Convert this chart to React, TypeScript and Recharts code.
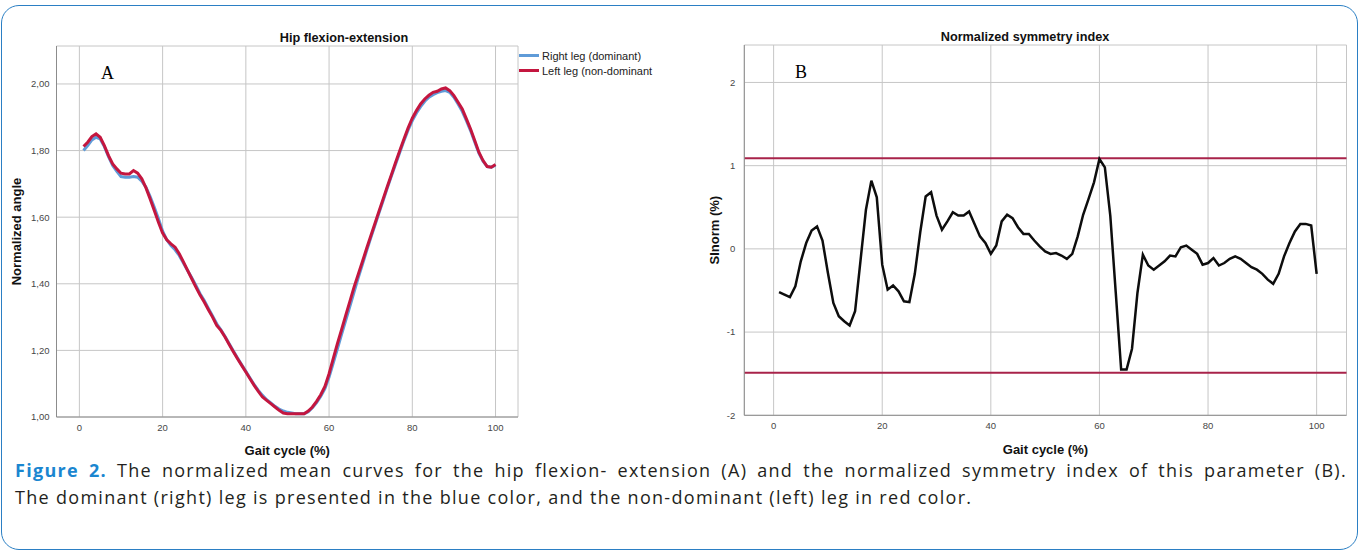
import React from 'react';
import { LineChart, Line, XAxis, YAxis, CartesianGrid, ReferenceLine, Legend } from 'recharts';

// gait cycle positions (%)
const gaitCycle = [
  1, 2, 3, 4, 5, 6, 7, 8, 9, 10, 11, 12, 13, 14, 15, 16, 17, 18, 19, 20,
  21, 22, 23, 24, 25, 26, 27, 28, 29, 30, 31, 32, 33, 34, 35, 36, 37, 38, 39, 40,
  41, 42, 43, 44, 45, 46, 47, 48, 49, 50, 51, 52, 53, 54, 55, 56, 57, 58, 59, 60,
  61, 62, 63, 64, 65, 66, 67, 68, 69, 70, 71, 72, 73, 74, 75, 76, 77, 78, 79, 80,
  81, 82, 83, 84, 85, 86, 87, 88, 89, 90, 91, 92, 93, 94, 95, 96, 97, 98, 99, 100,
];

// panel A - normalized hip angle, right (dominant) leg
const rightLeg = [
  1.800, 1.815, 1.832, 1.840, 1.835, 1.812, 1.782, 1.755, 1.738, 1.722,
  1.720, 1.720, 1.722, 1.720, 1.708, 1.690, 1.662, 1.630, 1.595, 1.558,
  1.532, 1.515, 1.502, 1.485, 1.462, 1.440, 1.418, 1.395, 1.370, 1.350,
  1.326, 1.303, 1.280, 1.262, 1.242, 1.220, 1.198, 1.177, 1.157, 1.137,
  1.117, 1.097, 1.080, 1.065, 1.052, 1.042, 1.032, 1.024, 1.018, 1.014,
  1.012, 1.010, 1.010, 1.010, 1.016, 1.028, 1.043, 1.062, 1.085, 1.120,
  1.162, 1.205, 1.248, 1.290, 1.332, 1.375, 1.418, 1.458, 1.498, 1.537,
  1.575, 1.613, 1.650, 1.688, 1.724, 1.760, 1.795, 1.830, 1.862, 1.890,
  1.913, 1.932, 1.948, 1.960, 1.968, 1.974, 1.978, 1.980, 1.975, 1.960,
  1.940, 1.918, 1.890, 1.860, 1.826, 1.792, 1.768, 1.752, 1.750, 1.756,
];

// panel A - left (non-dominant) leg
const leftLeg = [
  1.812, 1.825, 1.842, 1.850, 1.840, 1.815, 1.785, 1.760, 1.745, 1.732,
  1.730, 1.730, 1.740, 1.732, 1.715, 1.688, 1.655, 1.620, 1.585, 1.552,
  1.532, 1.520, 1.510, 1.490, 1.466, 1.440, 1.415, 1.390, 1.366, 1.345,
  1.322, 1.300, 1.275, 1.260, 1.240, 1.218, 1.196, 1.175, 1.155, 1.135,
  1.115, 1.095, 1.077, 1.060, 1.050, 1.040, 1.030, 1.020, 1.012, 1.010,
  1.010, 1.010, 1.010, 1.010, 1.018, 1.030, 1.047, 1.067, 1.092, 1.130,
  1.175, 1.220, 1.262, 1.305, 1.347, 1.390, 1.428, 1.466, 1.505, 1.543,
  1.580, 1.618, 1.655, 1.692, 1.728, 1.765, 1.800, 1.835, 1.868, 1.897,
  1.920, 1.940, 1.955, 1.966, 1.975, 1.978, 1.985, 1.988, 1.980, 1.965,
  1.945, 1.925, 1.895, 1.865, 1.830, 1.795, 1.770, 1.752, 1.750, 1.758,
];

// panel B - normalized symmetry index (%)
const siNorm = [
  -0.52, -0.55, -0.58, -0.45, -0.15, 0.07, 0.22, 0.27, 0.10, -0.29,
  -0.65, -0.81, -0.87, -0.92, -0.75, -0.14, 0.47, 0.82, 0.62, -0.19,
  -0.49, -0.44, -0.51, -0.63, -0.64, -0.30, 0.20, 0.63, 0.68, 0.40,
  0.23, 0.33, 0.44, 0.40, 0.40, 0.45, 0.30, 0.15, 0.07, -0.06,
  0.04, 0.33, 0.41, 0.37, 0.26, 0.18, 0.18, 0.10, 0.03, -0.03,
  -0.06, -0.05, -0.08, -0.12, -0.06, 0.15, 0.41, 0.60, 0.80, 1.08,
  0.98, 0.40, -0.52, -1.45, -1.45, -1.20, -0.53, -0.07, -0.20, -0.25,
  -0.20, -0.15, -0.08, -0.09, 0.02, 0.04, -0.01, -0.06, -0.19, -0.17,
  -0.11, -0.20, -0.17, -0.12, -0.09, -0.12, -0.17, -0.22, -0.25, -0.30,
  -0.37, -0.42, -0.30, -0.09, 0.07, 0.21, 0.30, 0.30, 0.28, -0.30,
];

const legendOrder = ['Right leg (dominant)', 'Left leg (non-dominant'];
const xTicks = [0, 20, 40, 60, 80, 100];
const hipTicks = [1.0, 1.2, 1.4, 1.6, 1.8, 2.0];
const siTicks = [-2, -1, 0, 1, 2];
const siLimits = [1.09, -1.49];

const hipData = gaitCycle.map((x, i) => ({ x, right: rightLeg[i], left: leftLeg[i] }));
const siData = gaitCycle.map((x, i) => ({ x, si: siNorm[i] }));

const sans = "'Liberation Sans', Arial, sans-serif";
const tickStyle = { fontSize: 9.5, fill: '#474747', fontFamily: "'Liberation Sans Narrow', 'Liberation Sans', Arial, sans-serif" };
const axisTitleStyle = { fontSize: 13, fontWeight: 700, fill: '#111', fontFamily: sans };
const gridColor = '#c6c6c6';
const axisColor = '#8c8c8c';

const HipLegend = (props: any) => {
  const items = [...(props.payload || [])].sort(
    (a: any, b: any) => legendOrder.indexOf(a.value) - legendOrder.indexOf(b.value)
  );
  return (
    <div style={{ fontFamily: sans, fontSize: 11, color: '#222' }}>
      {items.map((entry: any) => (
        <div key={entry.value} style={{ display: 'flex', alignItems: 'center', height: 15 }}>
          <span style={{ display: 'inline-block', width: 20, height: 3, background: entry.color, marginRight: 3 }} />
          <span>{entry.value}</span>
        </div>
      ))}
    </div>
  );
};

const titleStyle: React.CSSProperties = {
  position: 'absolute',
  transform: 'translate(-50%, -50%)',
  whiteSpace: 'nowrap',
  fontFamily: sans,
  fontWeight: 700,
  fontSize: 12.7,
  lineHeight: 1,
  color: '#111',
};

const panelLetter: React.CSSProperties = {
  position: 'absolute',
  fontFamily: "'Liberation Serif', 'Times New Roman', serif",
  fontSize: 18,
  lineHeight: '18px',
  color: '#000',
};

export default function App() {
  return (
    <div style={{ position: 'absolute', left: 0, top: 0, width: 1361, height: 553, background: '#fff', overflow: 'hidden' }}>
      <div style={{ position: 'absolute', left: 1, top: 5, width: 1357, height: 545, border: '1.5px solid #2b7fc4', borderRadius: 18, boxSizing: 'border-box' }} />

      {/* Panel A */}
      <div style={{ position: 'absolute', left: 0, top: 0 }}>
        <LineChart width={680} height={553} data={hipData} margin={{ top: 46, right: 22, bottom: 106, left: 12 }}>
          <CartesianGrid stroke={gridColor} />
          <XAxis
            dataKey="x"
            type="number"
            domain={[-5.5, 105.4]}
            ticks={xTicks}
            height={30}
            tickLine={false}
            tickSize={5}
            tickMargin={2}
            tick={tickStyle}
            axisLine={{ stroke: axisColor }}
            label={{ value: 'Gait cycle (%)', position: 'bottom', offset: -1, style: axisTitleStyle }}
          />
          <YAxis
            type="number"
            domain={[1, 2.114]}
            ticks={hipTicks}
            width={44.5}
            tickLine={false}
            tickSize={5}
            tickMargin={2}
            tick={tickStyle}
            tickFormatter={(v: number) => v.toFixed(2).replace('.', ',')}
            axisLine={{ stroke: axisColor }}
            label={{ value: 'Normalized angle', angle: -90, position: 'insideLeft', offset: 4, style: { ...axisTitleStyle, textAnchor: 'middle' } }}
          />
          <Legend
            layout="vertical"
            align="right"
            verticalAlign="top"
            content={HipLegend}
            wrapperStyle={{ left: 519, top: 48, width: 140 }}
          />
          <Line type="linear" dataKey="right" name="Right leg (dominant)" stroke="#5f9bd8" strokeWidth={3} dot={false} isAnimationActive={false} />
          <Line type="linear" dataKey="left" name="Left leg (non-dominant" stroke="#c4163f" strokeWidth={3} dot={false} isAnimationActive={false} />
        </LineChart>
      </div>

      {/* Panel B */}
      <div style={{ position: 'absolute', left: 680, top: 0 }}>
        <LineChart width={681} height={553} data={siData} margin={{ top: 45, right: 14.5, bottom: 107.7, left: 24 }}>
          <CartesianGrid stroke={gridColor} />
          <XAxis
            dataKey="x"
            type="number"
            domain={[-5.4, 105.5]}
            ticks={xTicks}
            height={30}
            tickLine={false}
            tickSize={5}
            tickMargin={2}
            tick={tickStyle}
            axisLine={{ stroke: axisColor }}
            label={{ value: 'Gait cycle (%)', position: 'bottom', offset: -1, style: axisTitleStyle }}
          />
          <YAxis
            type="number"
            domain={[-2, 2.45]}
            ticks={siTicks}
            width={40.3}
            tickLine={false}
            tickSize={6}
            tickMargin={3}
            tick={tickStyle}
            axisLine={{ stroke: axisColor }}
            label={{ value: 'SInorm (%)', angle: -90, position: 'insideLeft', offset: 10.7, style: { ...axisTitleStyle, textAnchor: 'middle' } }}
          />
          {siLimits.map((v) => (
            <ReferenceLine key={v} y={v} stroke="#a8234a" strokeWidth={2} />
          ))}
          <Line type="linear" dataKey="si" stroke="#0d0d0d" strokeWidth={2.5} dot={false} isAnimationActive={false} />
        </LineChart>
      </div>

      <div style={{ ...titleStyle, left: 344, top: 37.5 }}>Hip flexion-extension</div>
      <div style={{ ...titleStyle, left: 1025, top: 36.5 }}>Normalized symmetry index</div>
      <div style={{ ...panelLetter, left: 101, top: 64 }}>A</div>
      <div style={{ ...panelLetter, left: 795, top: 63 }}>B</div>

      {/* caption */}
      <div style={{ position: 'absolute', left: 15, top: 457, width: 1332, fontFamily: "'Open Sans', 'Noto Sans', sans-serif", fontSize: 18, letterSpacing: 1.3, lineHeight: '27px', color: '#231f20' }}>
        <div style={{ textAlign: 'justify', textAlignLast: 'justify' }}>
          <span style={{ color: '#1a86d0', fontWeight: 700 }}>Figure 2.</span> The normalized mean curves for the hip flexion- extension (A) and the normalized symmetry index of this parameter (B).
        </div>
        <div>The dominant (right) leg is presented in the blue color, and the non-dominant (left) leg in red color.</div>
      </div>
    </div>
  );
}
